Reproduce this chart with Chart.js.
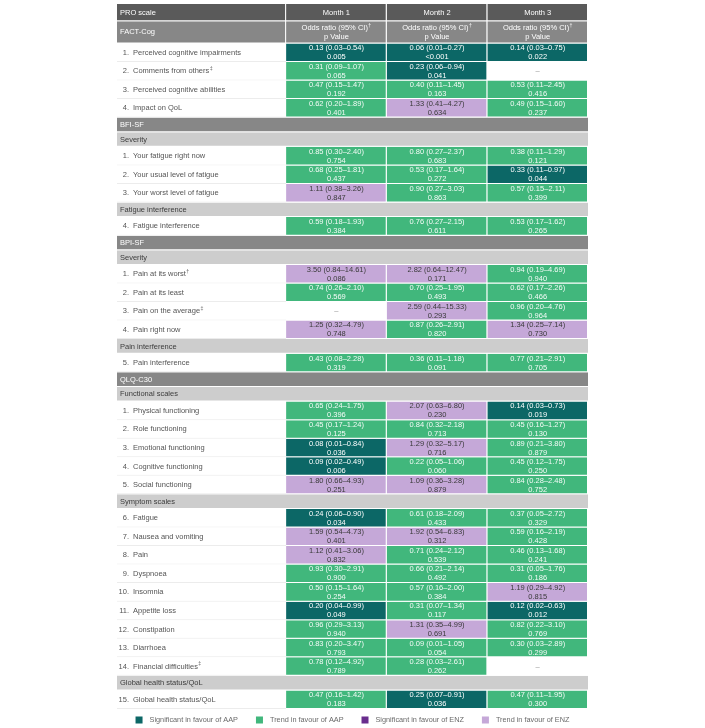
<!DOCTYPE html>
<html>
<head>
<meta charset="utf-8">
<script src="https://cdn.jsdelivr.net/npm/chart.js@4.4.1/dist/chart.umd.min.js"></script>
<style>
  html, body { margin: 0; background: #fff; }
</style>
</head>
<body>
<canvas id="tabla" width="705" height="728"></canvas>
<script>
// --- datos de la tabla ---
const firstColTitle = "PRO scale";
const months = ["Month 1", "Month 2", "Month 3"];
const subHeader = ["Odds ratio (95% CI)†", "p Value"];

// filas de arriba a abajo: 'lead' = instrumento con subcabecera, 'inst' = instrumento, 'sub' = subescala, 'item' = fila con datos
const rowKinds = [
  "lead", "item", "item", "item", "item",
  "inst", "sub", "item", "item", "item", "sub", "item",
  "inst", "sub", "item", "item", "item", "item", "sub", "item",
  "inst", "sub", "item", "item", "item", "item", "item",
  "sub", "item", "item", "item", "item", "item", "item", "item", "item", "item",
  "sub", "item"
];
const rowLabels = [
  "FACT-Cog",
  "1. Perceived cognitive impairments",
  "2. Comments from others‡",
  "3. Perceived cognitive abilities",
  "4. Impact on QoL",
  "BFI-SF",
  "Severity",
  "1. Your fatigue right now",
  "2. Your usual level of fatigue",
  "3. Your worst level of fatigue",
  "Fatigue interference",
  "4. Fatigue interference",
  "BPI-SF",
  "Severity",
  "1. Pain at its worst†",
  "2. Pain at its least",
  "3. Pain on the average‡",
  "4. Pain right now",
  "Pain interference",
  "5. Pain interference",
  "QLQ-C30",
  "Functional scales",
  "1. Physical functioning",
  "2. Role functioning",
  "3. Emotional functioning",
  "4. Cognitive functioning",
  "5. Social functioning",
  "Symptom scales",
  "6. Fatigue",
  "7. Nausea and vomiting",
  "8. Pain",
  "9. Dyspnoea",
  "10. Insomnia",
  "11. Appetite loss",
  "12. Constipation",
  "13. Diarrhoea",
  "14. Financial difficulties‡",
  "Global health status/QoL",
  "15. Global health status/QoL"
];

// odds ratio, IC 95% y p por mes (una entrada por fila 'item'; null = no estimable)
const orM1 = [0.13, 0.31, 0.47, 0.62, 0.85, 0.68, 1.11, 0.59, 3.50, 0.74, null, 1.25, 0.43, 0.65, 0.45, 0.08, 0.09, 1.80, 0.24, 1.59, 1.12, 0.93, 0.50, 0.20, 0.96, 0.83, 0.78, 0.47];
const loM1 = [0.03, 0.09, 0.15, 0.20, 0.30, 0.25, 0.38, 0.18, 0.84, 0.26, null, 0.32, 0.08, 0.24, 0.17, 0.01, 0.02, 0.66, 0.06, 0.54, 0.41, 0.30, 0.15, 0.04, 0.29, 0.20, 0.12, 0.16];
const hiM1 = [0.54, 1.07, 1.47, 1.89, 2.40, 1.81, 3.26, 1.93, 14.61, 2.10, null, 4.79, 2.28, 1.75, 1.24, 0.84, 0.49, 4.93, 0.90, 4.73, 3.06, 2.91, 1.64, 0.99, 3.13, 3.47, 4.92, 1.42];
const pM1 = ["0.005", "0.065", "0.192", "0.401", "0.754", "0.437", "0.847", "0.384", "0.086", "0.569", null, "0.748", "0.319", "0.396", "0.125", "0.036", "0.006", "0.251", "0.034", "0.401", "0.832", "0.900", "0.254", "0.049", "0.940", "0.793", "0.789", "0.183"];

const orM2 = [0.06, 0.23, 0.40, 1.33, 0.80, 0.53, 0.90, 0.76, 2.82, 0.70, 2.59, 0.87, 0.36, 2.07, 0.84, 1.29, 0.22, 1.09, 0.61, 1.92, 0.71, 0.66, 0.57, 0.31, 1.31, 0.09, 0.28, 0.25];
const loM2 = [0.01, 0.06, 0.11, 0.41, 0.27, 0.17, 0.27, 0.27, 0.64, 0.25, 0.44, 0.26, 0.11, 0.63, 0.32, 0.32, 0.05, 0.36, 0.18, 0.54, 0.24, 0.21, 0.16, 0.07, 0.35, 0.01, 0.03, 0.07];
const hiM2 = [0.27, 0.94, 1.45, 4.27, 2.37, 1.64, 3.03, 2.15, 12.47, 1.95, 15.33, 2.91, 1.18, 6.80, 2.18, 5.17, 1.06, 3.28, 2.09, 6.83, 2.12, 2.14, 2.00, 1.34, 4.99, 1.05, 2.61, 0.91];
const pM2 = ["<0.001", "0.041", "0.163", "0.634", "0.683", "0.272", "0.863", "0.611", "0.171", "0.493", "0.293", "0.820", "0.091", "0.230", "0.713", "0.716", "0.060", "0.879", "0.433", "0.312", "0.539", "0.492", "0.384", "0.117", "0.691", "0.054", "0.262", "0.036"];

const orM3 = [0.14, null, 0.53, 0.49, 0.38, 0.33, 0.57, 0.53, 0.94, 0.62, 0.96, 1.34, 0.77, 0.14, 0.45, 0.89, 0.45, 0.84, 0.37, 0.59, 0.46, 0.31, 1.19, 0.12, 0.82, 0.30, null, 0.47];
const loM3 = [0.03, null, 0.11, 0.15, 0.11, 0.11, 0.15, 0.17, 0.19, 0.17, 0.20, 0.25, 0.21, 0.03, 0.16, 0.21, 0.12, 0.28, 0.05, 0.16, 0.13, 0.05, 0.29, 0.02, 0.22, 0.03, null, 0.11];
const hiM3 = [0.75, null, 2.45, 1.60, 1.29, 0.97, 2.11, 1.62, 4.69, 2.26, 4.76, 7.14, 2.91, 0.73, 1.27, 3.80, 1.75, 2.48, 2.72, 2.19, 1.68, 1.76, 4.92, 0.63, 3.10, 2.89, null, 1.95];
const pM3 = ["0.022", null, "0.416", "0.237", "0.121", "0.044", "0.399", "0.265", "0.940", "0.466", "0.964", "0.730", "0.705", "0.019", "0.130", "0.879", "0.250", "0.752", "0.329", "0.428", "0.241", "0.186", "0.815", "0.012", "0.769", "0.299", null, "0.300"];

const legendLabels = [
  "Significant in favour of AAP",
  "Trend in favour of AAP",
  "Significant in favour of ENZ",
  "Trend in favour of ENZ"
];

// --- geometría y estilo ---
const fuente = "'Liberation Sans', Arial, sans-serif";
const tam = 7.5;                  // tamaño de letra de la tabla
const rowH = { head: 0.935, lead: 1.19, inst: 0.79, sub: 0.79, item: 1 };
const labelW = 1.68;              // ancho de la columna de etiquetas (en anchos de columna de mes)
const labelX = -labelW / 2;
const monthX = [0.5, 1.5, 2.5];
const bandX = (3 - labelW) / 2;   // centro de las bandas de ancho completo

const headSpan = [0, rowH.head];
let acum = rowH.head;
const spans = rowKinds.map((k) => {
  const s = [acum, acum + rowH[k]];
  acum += rowH[k];
  return s;
});
const yTotal = acum;

const f2 = (v) => v.toFixed(2);

// clasificación de celdas según OR y p
const celdas = { sA: [], tA: [], sE: [], tE: [], vacio: [] };
const porMes = [[orM1, loM1, hiM1, pM1], [orM2, loM2, hiM2, pM2], [orM3, loM3, hiM3, pM3]];
const etiquetasItem = [];
const bandasInst = [];
const bandasSub = [];
let nItem = 0;
rowKinds.forEach((k, r) => {
  if (k === "inst") bandasInst.push({ x: bandX, y: spans[r], lines: [rowLabels[r]] });
  if (k === "sub") bandasSub.push({ x: bandX, y: spans[r], lines: [rowLabels[r]] });
  if (k !== "item") return;
  etiquetasItem.push({ x: labelX, y: spans[r], lines: [rowLabels[r]] });
  porMes.forEach(([or, lo, hi, p], m) => {
    const celda = { x: monthX[m], y: spans[r] };
    if (or[nItem] === null) {
      celda.lines = ["–"];
      celdas.vacio.push(celda);
      return;
    }
    celda.lines = [`${f2(or[nItem])} (${f2(lo[nItem])}–${f2(hi[nItem])})`, p[nItem]];
    const sig = p[nItem].startsWith("<") || parseFloat(p[nItem]) < 0.05;
    const clave = or[nItem] < 1 ? (sig ? "sA" : "tA") : (sig ? "sE" : "tE");
    celdas[clave].push(celda);
  });
  nItem++;
});

const bordeBlanco = { top: 0, left: 0, right: 1, bottom: 1 };
const base = {
  grouped: false,
  borderSkipped: false,
  borderColor: "#ffffff",
  borderWidth: bordeBlanco,
  inflateAmount: 0,
  barPercentage: 1,
  categoryPercentage: 1
};

const datasets = [
  { ...base, label: legendLabels[0], enLeyenda: true, data: celdas.sA, backgroundColor: "#0c6766", textColor: "#ffffff" },
  { ...base, label: legendLabels[1], enLeyenda: true, data: celdas.tA, backgroundColor: "#41b77c", textColor: "#f4fbf7" },
  { ...base, label: legendLabels[2], enLeyenda: true, data: celdas.sE, backgroundColor: "#692d8d", textColor: "#ffffff" },
  { ...base, label: legendLabels[3], enLeyenda: true, data: celdas.tE, backgroundColor: "#c5a8d8", textColor: "#3a3a3a" },
  { ...base, label: "vacio", data: celdas.vacio, backgroundColor: "#ffffff", textColor: "#999999" },
  { ...base, label: "items", data: etiquetasItem, barPercentage: labelW, backgroundColor: "#ffffff",
    borderColor: "#ececec", borderWidth: { top: 0, left: 0, right: 0, bottom: 1 }, textColor: "#555555", align: "left", numerada: true },
  { ...base, label: "cabecera", data: [{ x: labelX, y: headSpan, lines: [firstColTitle] }], barPercentage: labelW,
    backgroundColor: "#5a5a5a", textColor: "#ffffff", align: "left" },
  { ...base, label: "meses", data: months.map((m, i) => ({ x: monthX[i], y: headSpan, lines: [m] })),
    backgroundColor: "#5a5a5a", textColor: "#ffffff" },
  { ...base, label: "lead", data: [{ x: labelX, y: spans[0], lines: [rowLabels[0]] }], barPercentage: labelW,
    backgroundColor: "#878787", textColor: "#ffffff", align: "left" },
  { ...base, label: "subcabecera", data: months.map((m, i) => ({ x: monthX[i], y: spans[0], lines: subHeader })),
    backgroundColor: "#878787", textColor: "#ffffff" },
  // bandas de ancho completo en un eje aparte: sin ticks, su grosor es todo el eje
  { ...base, label: "instrumentos", xAxisID: "x2", data: bandasInst,
    borderWidth: { top: 0, left: 0, right: 0, bottom: 1 }, backgroundColor: "#878787", textColor: "#ffffff", align: "left" },
  { ...base, label: "subescalas", xAxisID: "x2", data: bandasSub,
    borderWidth: { top: 0, left: 0, right: 0, bottom: 1 }, backgroundColor: "#cdcdcd", textColor: "#3c3c3c", align: "left" }
];

// dibuja una línea con marca final (†/‡) como superíndice
function linea(ctx, str, x, y, align, size) {
  const m = str.match(/^(.*?)([†‡])$/);
  const main = m ? m[1] : str;
  const sup = m ? m[2] : "";
  ctx.font = `${size}px ${fuente}`;
  const wMain = ctx.measureText(main).width;
  ctx.font = `${size * 0.7}px ${fuente}`;
  const wSup = sup ? ctx.measureText(sup).width + 0.4 : 0;
  const x0 = align === "center" ? x - (wMain + wSup) / 2 : x;
  ctx.textAlign = "left";
  ctx.font = `${size}px ${fuente}`;
  ctx.fillText(main, x0, y);
  if (sup) {
    ctx.font = `${size * 0.7}px ${fuente}`;
    ctx.fillText(sup, x0 + wMain + 0.4, y - size * 0.35);
  }
}

const textoCeldas = {
  id: "textoCeldas",
  afterDatasetsDraw(chart) {
    const ctx = chart.ctx;
    ctx.save();
    ctx.textBaseline = "middle";
    chart.data.datasets.forEach((ds, i) => {
      const meta = chart.getDatasetMeta(i);
      meta.data.forEach((bar, j) => {
        const d = ds.data[j];
        if (!d || !d.lines) return;
        const { x, y, base, width } = bar.getProps(["x", "y", "base", "width"], true);
        const cy = (y + base) / 2;
        const izq = x - width / 2;
        ctx.fillStyle = ds.textColor;
        const salto = 9;
        d.lines.forEach((txt, k) => {
          const ly = cy + (k - (d.lines.length - 1) / 2) * salto;
          if (ds.align !== "left") {
            linea(ctx, txt, x, ly, "center", tam);
          } else if (ds.numerada) {
            const partes = txt.match(/^(\d+\.)\s+(.*)$/);
            ctx.font = `${tam}px ${fuente}`;
            ctx.textAlign = "right";
            ctx.fillText(partes[1], izq + 12, ly);
            linea(ctx, partes[2], izq + 16, ly, "left", tam);
          } else {
            linea(ctx, txt, izq + 3, ly, "left", tam);
          }
        });
      });
    });
    ctx.restore();
  }
};

const leyenda = {
  id: "leyenda",
  afterDraw(chart) {
    const ctx = chart.ctx;
    const items = chart.data.datasets.filter((d) => d.enLeyenda);
    ctx.save();
    ctx.font = `7.3px ${fuente}`;
    const caja = 7, sepTxt = 7, sepItem = 18;
    const anchos = items.map((d) => caja + sepTxt + ctx.measureText(d.label).width);
    const total = anchos.reduce((a, b) => a + b, 0) + sepItem * (items.length - 1);
    let x = (chart.width - total) / 2;
    const y = chart.chartArea.bottom + 11;
    ctx.textBaseline = "middle";
    ctx.textAlign = "left";
    items.forEach((d, i) => {
      ctx.fillStyle = d.backgroundColor;
      ctx.fillRect(x, y - caja / 2, caja, caja);
      ctx.fillStyle = "#6a6a6a";
      ctx.fillText(d.label, x + caja + sepTxt, y);
      x += anchos[i] + sepItem;
    });
    ctx.restore();
  }
};

// eje de columnas: sin offset ni ticks, así el grosor de barra sale de la separación entre columnas
const ejeX = {
  type: "linear",
  display: false,
  offset: false,
  min: -labelW,
  max: 3,
  bounds: "data",
  afterBuildTicks: (scale) => { scale.ticks = []; }
};

new Chart(document.getElementById("tabla"), {
  type: "bar",
  data: { datasets },
  options: {
    responsive: false,
    animation: false,
    layout: { padding: { left: 117, right: 117, top: 4, bottom: 19 } },
    scales: {
      x: ejeX,
      x2: { ...ejeX },
      y: { type: "linear", display: false, reverse: true, min: 0, max: yTotal, bounds: "data" }
    },
    plugins: {
      legend: { display: false },
      tooltip: { enabled: false }
    }
  },
  plugins: [textoCeldas, leyenda]
});
</script>
</body>
</html>
